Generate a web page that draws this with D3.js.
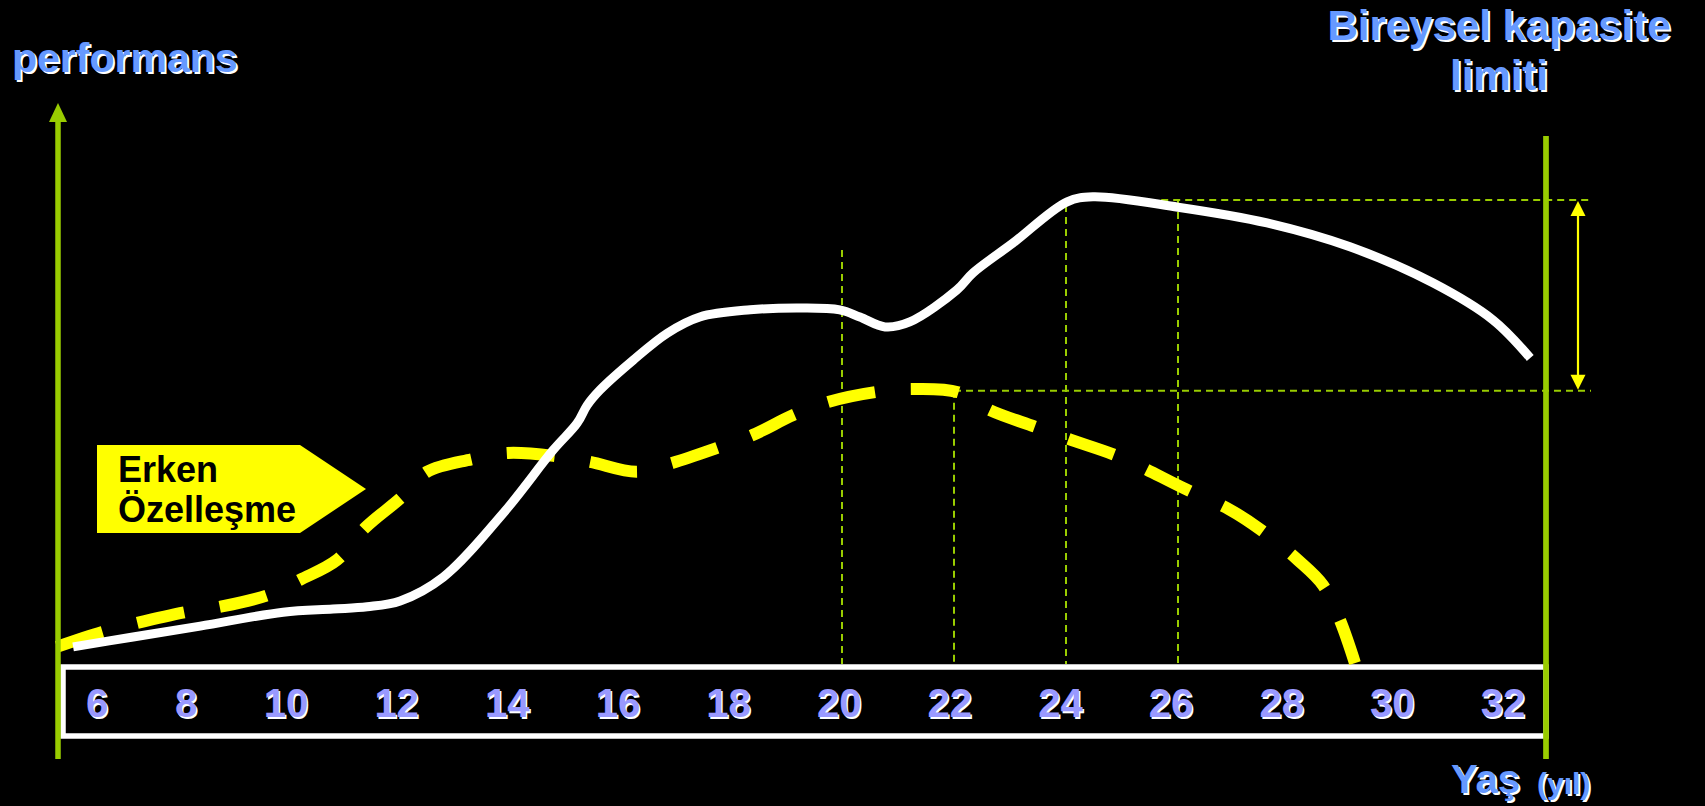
<!DOCTYPE html>
<html>
<head>
<meta charset="utf-8">
<script src="https://cdn.jsdelivr.net/npm/d3@7"></script>
<style>
  html, body { margin: 0; padding: 0; background: #000; overflow: hidden; }
  svg { display: block; }
</style>
</head>
<body>
<svg id="chart" width="1705" height="806"></svg>
<script>
// ---- data ----
const tickAges = [6, 8, 10, 12, 14, 16, 18, 20, 22, 24, 26, 28, 30, 32];
const tickLabels = ["6", "8", "10", "12", "14", "16", "18", "20", "22", "24", "26", "28", "30", "32"];

// white solid curve: individual capacity / performance (age, performance)
const capacityAges = [6.27, 7.34, 8.54, 10.02, 10.91, 11.52, 12.11, 12.88, 13.95, 14.84, 15.27, 15.45, 15.68, 16.27, 16.88, 17.46, 18.36, 19.25, 19.96, 20.32, 20.77, 21.21, 22.05, 22.34, 23.05, 24.02, 24.48, 26.0, 27.59, 29.07, 30.55, 31.63, 32.29];
const capacityPerf = [0.7, 2.9, 5.3, 8.4, 9.1, 9.6, 10.9, 16.2, 30.4, 44.4, 50.4, 54.4, 57.8, 64.4, 70.4, 74.0, 75.6, 76.0, 75.6, 74.0, 71.8, 72.9, 80.0, 83.8, 90.4, 99.6, 100.7, 98.4, 94.9, 89.6, 81.6, 73.3, 64.9];

// yellow dashed curve: early specialisation (age, performance)
const earlyAges = [5.98, 6.79, 7.41, 8.27, 8.89, 9.75, 10.32, 10.98, 11.48, 12.14, 12.59, 13.39, 14.04, 14.88, 15.5, 16.34, 16.98, 17.77, 18.41, 19.13, 19.75, 20.59, 21.25, 22.07, 22.64, 23.45, 24.09, 24.96, 26.13, 26.91, 27.48, 28.14, 28.59, 28.89, 29.16];
const earlyPerf = [0.7, 4.0, 6.0, 8.4, 9.6, 12.2, 15.6, 20.0, 27.1, 34.0, 39.6, 42.4, 43.8, 43.1, 41.8, 39.6, 41.6, 44.9, 47.8, 52.2, 55.1, 57.3, 58.0, 57.3, 53.3, 49.6, 46.7, 42.9, 35.8, 31.3, 26.7, 20.0, 14.4, 6.7, -2.9];

// reference guide lines
const guideAges = [20, 22, 24, 26];
const guideTops = [88.9, 57.6, 98.9, 100];
const limitLevels = [100, 57.6];
const limitStartAges = [25.7, 22];

// texts
const yTitle = "performans";
const limitTitle = ["Bireysel kapasite", "limiti"];
const xTitle = "Yaş";
const xUnit = "(yıl)";
const calloutLines = ["Erken", "Özelleşme"];

// ---- scales ----
const x = d3.scaleLinear().domain([6, 32]).range([58, 1514]);
const labelX = d3.scaleLinear().domain([6, 8, 10, 32]).range([97, 186, 286, 1503]);
const y = d3.scaleLinear().domain([0, 100]).range([650, 200]);

const svg = d3.select("#chart");
svg.append("rect").attr("width", 1705).attr("height", 806).attr("fill", "#000");

const GREEN = "#99cc00";
const BLUE = "#6699ff";
const LAV = "#9999ff";
const FONT = "'Comic Sans MS', 'Liberation Sans', Arial, sans-serif";

const boxTop = 667, boxBottom = 736, boxLeft = 63, rightX = 1546;

// ---- guide lines ----
const g = svg.append("g");
guideAges.forEach((a, i) => {
  g.append("line")
    .attr("x1", x(a)).attr("x2", x(a))
    .attr("y1", y(guideTops[i])).attr("y2", boxTop - 3)
    .attr("stroke", GREEN).attr("stroke-width", 2)
    .attr("stroke-dasharray", "7,5");
});
limitLevels.forEach((v, i) => {
  g.append("line")
    .attr("x1", x(limitStartAges[i])).attr("x2", 1591)
    .attr("y1", y(v)).attr("y2", y(v))
    .attr("stroke", GREEN).attr("stroke-width", 2)
    .attr("stroke-dasharray", "7,5");
});

// ---- box with tick labels ----
svg.append("rect")
  .attr("x", boxLeft).attr("y", boxTop)
  .attr("width", rightX - boxLeft).attr("height", boxBottom - boxTop)
  .attr("fill", "none").attr("stroke", "#fff").attr("stroke-width", 5.5);

const tl = svg.append("g").attr("font-family", FONT).attr("font-weight", "bold")
  .attr("font-size", 40).attr("text-anchor", "middle");
tickAges.forEach((a, i) => {
  tl.append("text").attr("x", labelX(a) + 1.5).attr("y", 717 + 1.5).attr("fill", "#fff").text(tickLabels[i]);
  tl.append("text").attr("x", labelX(a)).attr("y", 717).attr("fill", LAV).text(tickLabels[i]);
});

// ---- curves ----
const line = d3.line().x(d => x(d[0])).y(d => y(d[1])).curve(d3.curveCatmullRom.alpha(0.5));

svg.append("path")
  .datum(earlyAges.map((a, i) => [a, earlyPerf[i]]))
  .attr("d", line)
  .attr("fill", "none").attr("stroke", "#ffff00").attr("stroke-width", 12)
  .attr("stroke-dasharray", "48,36");

svg.append("path")
  .datum(capacityAges.map((a, i) => [a, capacityPerf[i]]))
  .attr("d", line)
  .attr("fill", "none").attr("stroke", "#fff").attr("stroke-width", 9)
  .attr("stroke-linejoin", "round");

// ---- axes (green) ----
svg.append("line").attr("x1", 58).attr("x2", 58).attr("y1", 120).attr("y2", 759)
  .attr("stroke", GREEN).attr("stroke-width", 5.5);
svg.append("path").attr("d", "M58,103 L67,122 L49,122 Z").attr("fill", GREEN);
svg.append("line").attr("x1", rightX).attr("x2", rightX).attr("y1", 136).attr("y2", 759)
  .attr("stroke", GREEN).attr("stroke-width", 5.7);

// ---- double arrow (capacity range) ----
const ax = 1578;
svg.append("line").attr("x1", ax).attr("x2", ax).attr("y1", y(limitLevels[0]) + 10).attr("y2", y(limitLevels[1]) - 10)
  .attr("stroke", "#ffff00").attr("stroke-width", 2.2);
svg.append("path").attr("d", `M${ax},${y(limitLevels[0]) + 1} L${ax + 7.5},${y(limitLevels[0]) + 16} L${ax - 7.5},${y(limitLevels[0]) + 16} Z`).attr("fill", "#ffff00");
svg.append("path").attr("d", `M${ax},${y(limitLevels[1]) - 1} L${ax + 7.5},${y(limitLevels[1]) - 16} L${ax - 7.5},${y(limitLevels[1]) - 16} Z`).attr("fill", "#ffff00");

// ---- titles ----
function shadowText(parent, tx, ty, str, size, anchor, color) {
  parent.append("text").attr("x", tx + 2).attr("y", ty + 2).attr("fill", "#fff")
    .attr("font-size", size).attr("text-anchor", anchor).text(str);
  parent.append("text").attr("x", tx).attr("y", ty).attr("fill", color)
    .attr("font-size", size).attr("text-anchor", anchor).text(str);
}
const tg = svg.append("g").attr("font-family", FONT).attr("font-weight", "bold");
shadowText(tg, 12, 72, yTitle, 41, "start", BLUE);
shadowText(tg, 1499, 40, limitTitle[0], 42, "middle", BLUE);
shadowText(tg, 1499, 90, limitTitle[1], 42, "middle", BLUE);
shadowText(tg, 1451, 793, xTitle, 40, "start", BLUE);
shadowText(tg, 1537, 794, xUnit, 30, "start", BLUE);

// ---- callout ----
svg.append("path").attr("d", "M97,445 L300,445 L366,489 L300,533 L97,533 Z").attr("fill", "#ffff00");
const cg = svg.append("g").attr("font-family", "'Liberation Sans', Arial, sans-serif").attr("font-weight", "bold")
  .attr("font-size", 36).attr("fill", "#000");
cg.append("text").attr("x", 118).attr("y", 482).text(calloutLines[0]);
cg.append("text").attr("x", 118).attr("y", 522).text(calloutLines[1]);
</script>
</body>
</html>
